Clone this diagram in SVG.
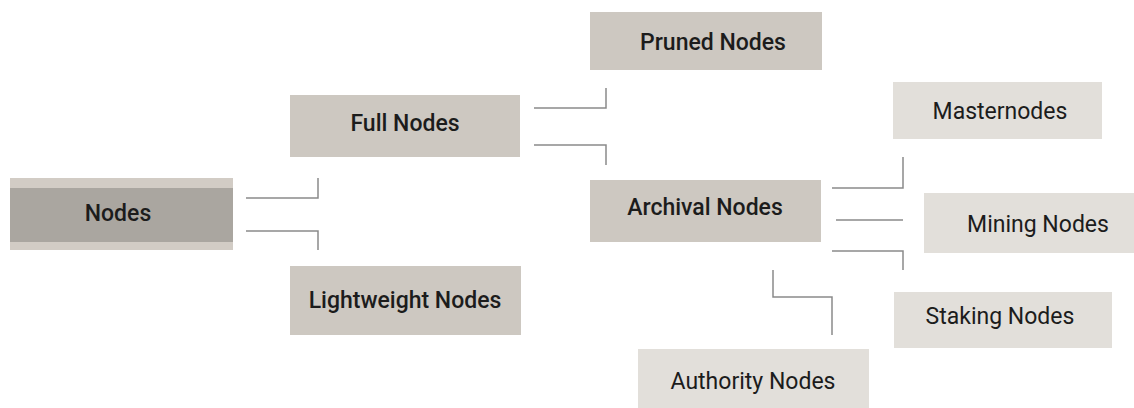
<svg xmlns="http://www.w3.org/2000/svg" width="1134" height="408" viewBox="0 0 1134 408">
  <style>
    .box1 { fill: #cdc8c1; }
    .box2 { fill: #e2dfda; }
    .lbl { font-family: Roboto, "Liberation Sans", sans-serif; font-size: 23px; text-anchor: middle; fill: #1c1c1c; }
    .b { font-weight: 500; }
    .wire { fill: none; stroke: #8a8a8a; stroke-width: 1.5; }
  </style>
  <rect width="1134" height="408" fill="#ffffff"/>

  <g id="connectors">
    <!-- Nodes to children -->
    <path class="wire" d="M246 198 H318 V178"/>
    <path class="wire" d="M246 231 H318 V250"/>
    <!-- Full Nodes to children -->
    <path class="wire" d="M534 108 H606 V88"/>
    <path class="wire" d="M534 145 H606 V165"/>
    <!-- Archival Nodes to children -->
    <path class="wire" d="M832 188 H903 V157"/>
    <path class="wire" d="M836 220 H903"/>
    <path class="wire" d="M832 251 H903 V270"/>
    <path class="wire" d="M773 270 V297 H832 V335"/>
  </g>

  <g id="node-nodes">
    <rect x="10" y="178" width="223" height="72" fill="#d2ccc5"/>
    <rect x="10" y="188" width="223" height="54" fill="#aaa6a0"/>
    <text class="lbl b" x="118" y="221">Nodes</text>
  </g>

  <g id="node-full">
    <rect class="box1" x="290" y="95" width="230" height="62"/>
    <text class="lbl b" x="405" y="131">Full Nodes</text>
  </g>

  <g id="node-lightweight">
    <rect class="box1" x="290" y="266" width="231" height="69"/>
    <text class="lbl b" x="405" y="308">Lightweight Nodes</text>
  </g>

  <g id="node-pruned">
    <rect class="box1" x="590" y="12" width="232" height="58"/>
    <text class="lbl b" x="713" y="50">Pruned Nodes</text>
  </g>

  <g id="node-archival">
    <rect class="box1" x="590" y="180" width="231" height="62"/>
    <text class="lbl b" x="705" y="215">Archival Nodes</text>
  </g>

  <g id="node-masternodes">
    <rect class="box2" x="893" y="82" width="209" height="57"/>
    <text class="lbl" x="1000" y="119">Masternodes</text>
  </g>

  <g id="node-mining">
    <rect class="box2" x="924" y="193" width="210" height="60"/>
    <text class="lbl" x="1038" y="232">Mining Nodes</text>
  </g>

  <g id="node-staking">
    <rect class="box2" x="894" y="292" width="218" height="56"/>
    <text class="lbl" x="1000" y="324">Staking Nodes</text>
  </g>

  <g id="node-authority">
    <rect class="box2" x="638" y="349" width="231" height="59"/>
    <text class="lbl" x="753" y="389">Authority Nodes</text>
  </g>
</svg>
